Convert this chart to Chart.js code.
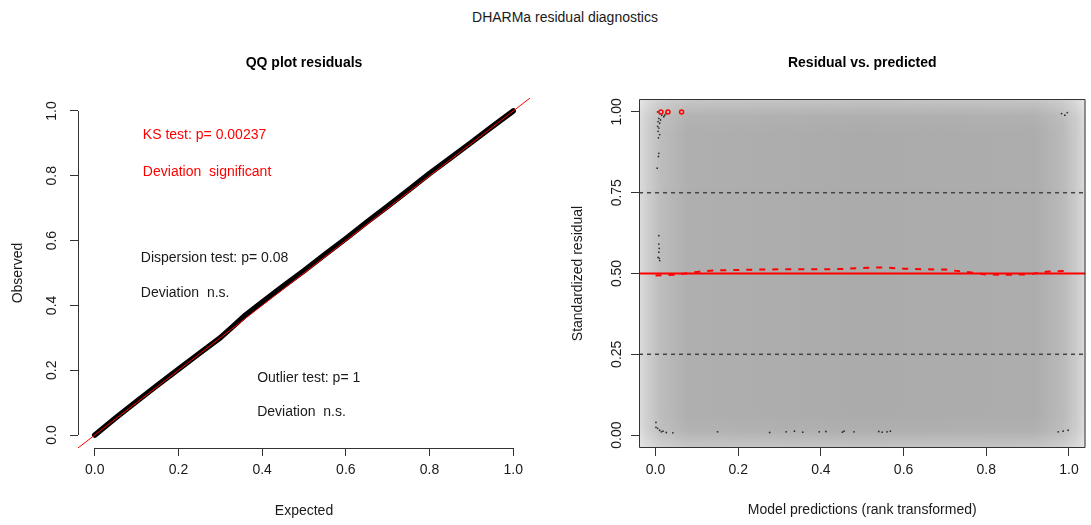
<!DOCTYPE html>
<html>
<head>
<title>DHARMa residual diagnostics</title>
<script src="https://cdn.jsdelivr.net/npm/chart.js"></script>
<style>
    body { margin: 0; background: #fff; font-family: "Liberation Sans", Arial, sans-serif; }
    #wrap { position: relative; width: 1091px; height: 525px; }
    #main { position: absolute; left: 365px; top: 9px; width: 400px; text-align: center; font-size: 14px; color: #1a1a1a; }
    #qq { position: absolute; left: 0; top: 0; }
    #res { position: absolute; left: 545px; top: 0; }
</style>
</head>
<body>
<div id="wrap">
    <div id="main">DHARMa residual diagnostics</div>
    <canvas id="qq" width="545" height="525"></canvas>
    <canvas id="res" width="546" height="525"></canvas>
</div>

<script>
// QQ plot: expected vs observed uniform quantiles
const qqExpected = [0, 0.05, 0.1, 0.15, 0.2, 0.25, 0.3, 0.33, 0.36, 0.4, 0.45, 0.5, 0.55, 0.6, 0.65, 0.7, 0.75, 0.8, 0.85, 0.9, 0.95, 1];
const qqObserved = [0, 0.053, 0.104, 0.154, 0.203, 0.252, 0.3, 0.335, 0.37, 0.41, 0.459, 0.507, 0.557, 0.606, 0.657, 0.706, 0.756, 0.807, 0.855, 0.903, 0.952, 1];
const unitTicks = [0, 0.2, 0.4, 0.6, 0.8, 1];
const residTicks = [0, 0.25, 0.5, 0.75, 1];

const testText = ['KS test: p= 0.00237', 'Deviation  significant',
                  'Dispersion test: p= 0.08', 'Deviation  n.s.',
                  'Outlier test: p= 1', 'Deviation  n.s.'];

// residual vs predicted
const predX = [0.005, 0.01, 0.015, 0.02, 0.008, 0.012, 0.006, 0.01, 0.005, 0.008, 0.006, 0.01, 0.007, 0.008, 0.007, 0.004, 0.022, 0.025,
               0.008, 0.008, 0.009, 0.008, 0.006, 0.009, 0.01,
               0.001, 0.001, 0.005, 0.01, 0.014, 0.018, 0.026, 0.042,
               0.15, 0.276, 0.316, 0.336, 0.356, 0.396, 0.412, 0.452, 0.456, 0.48, 0.54, 0.548, 0.56, 0.568,
               0.974, 0.986, 0.998, 0.982, 0.99, 0.996];
const predY = [1.0, 0.995, 0.99, 0.985, 0.98, 0.975, 0.97, 0.965, 0.955, 0.95, 0.94, 0.93, 0.92, 0.872, 0.862, 0.826, 0.99, 0.995,
               0.617, 0.591, 0.578, 0.566, 0.55, 0.547, 0.54,
               0.039, 0.024, 0.021, 0.015, 0.01, 0.012, 0.008, 0.007,
               0.01, 0.008, 0.01, 0.012, 0.009, 0.01, 0.011, 0.009, 0.012, 0.01, 0.011, 0.009, 0.01, 0.012,
               0.01, 0.012, 0.015, 0.995, 0.99, 0.998];
const outlierX = [0.013, 0.03, 0.063];
const outlierY = [1, 1, 1];
const quantX = [0, 0.05, 0.1, 0.15, 0.2, 0.25, 0.3, 0.35, 0.4, 0.45, 0.5, 0.55, 0.6, 0.65, 0.7, 0.75, 0.8, 0.85, 0.9, 0.95, 1];
const quantMedian = [0.494, 0.496, 0.505, 0.51, 0.511, 0.512, 0.513, 0.513, 0.513, 0.514, 0.517, 0.519, 0.515, 0.513, 0.512, 0.505, 0.497, 0.496, 0.497, 0.506, 0.508];
const refLines = [0.25, 0.5, 0.75];

const ink = '#1a1a1a';
const FONT = '"Liberation Sans", Arial, sans-serif';
Chart.defaults.font.family = FONT;
Chart.defaults.color = ink;

const pts = (xs, ys) => xs.map((x, i) => ({ x: x, y: ys[i] }));
const hline = v => [{ x: -0.04, y: v }, { x: 1.04, y: v }];

// R style axes: y tick labels turned, axis lines from first to last tick, notes
const rAxes = {
    id: 'rAxes',
    beforeDatasetsDraw(chart, args, opts) {
        if (!opts.shade) return;
        const { ctx, chartArea: a } = chart;
        ctx.save();
        let g = ctx.createLinearGradient(a.left, 0, a.right, 0);
        g.addColorStop(0, '#dcdcdc');
        g.addColorStop(0.02, '#cdcdcd');
        g.addColorStop(0.05, '#bcbcbc');
        g.addColorStop(0.11, '#afafaf');
        g.addColorStop(0.5, '#ababab');
        g.addColorStop(0.89, '#adadad');
        g.addColorStop(0.95, '#bababa');
        g.addColorStop(0.98, '#cbcbcb');
        g.addColorStop(1, '#dcdcdc');
        ctx.fillStyle = g;
        ctx.fillRect(a.left, a.top, a.width, a.height);
        g = ctx.createLinearGradient(0, a.top, 0, a.bottom);
        g.addColorStop(0, 'rgba(255,255,255,0.3)');
        g.addColorStop(0.05, 'rgba(255,255,255,0.05)');
        g.addColorStop(0.1, 'rgba(255,255,255,0)');
        g.addColorStop(0.9, 'rgba(255,255,255,0)');
        g.addColorStop(0.95, 'rgba(255,255,255,0.05)');
        g.addColorStop(1, 'rgba(255,255,255,0.3)');
        ctx.fillStyle = g;
        ctx.fillRect(a.left, a.top, a.width, a.height);
        ctx.restore();
    },
    afterDraw(chart, args, opts) {
        const { ctx, chartArea: a, scales: { x, y } } = chart;
        ctx.save();
        ctx.strokeStyle = '#333';
        ctx.lineWidth = 1;
        ctx.beginPath();
        if (opts.box) {
            ctx.rect(a.left + 0.5, a.top + 0.5, a.width - 1, a.height - 1);
        } else {
            ctx.moveTo(x.getPixelForValue(0), a.bottom + 0.5);
            ctx.lineTo(x.getPixelForValue(1), a.bottom + 0.5);
            ctx.moveTo(a.left + 0.5, y.getPixelForValue(0));
            ctx.lineTo(a.left + 0.5, y.getPixelForValue(1));
        }
        ctx.stroke();

        ctx.fillStyle = ink;
        ctx.font = '14px ' + FONT;
        ctx.textAlign = 'center';
        ctx.textBaseline = 'middle';
        y.ticks.forEach(t => {
            ctx.save();
            ctx.translate(opts.labelX, y.getPixelForValue(t.value));
            ctx.rotate(-Math.PI / 2);
            ctx.fillText(t.value.toFixed(opts.digits), 0, 0);
            ctx.restore();
        });

        ctx.textAlign = 'left';
        (opts.notes || []).forEach(n => {
            ctx.fillStyle = n.color;
            ctx.fillText(n.text, x.getPixelForValue(n.x), y.getPixelForValue(n.y));
        });
        ctx.restore();
    }
};

function scaleX(ticks, digits, title, titlePad) {
    return {
        type: 'linear', min: -0.04, max: 1.04,
        afterBuildTicks: s => { s.ticks = ticks.map(v => ({ value: v })); },
        afterFit: s => { s.height = 77; },
        grid: { drawOnChartArea: false, tickLength: 8, tickColor: '#333' },
        border: { display: false },
        ticks: { padding: 6, font: { size: 14 }, maxRotation: 0, autoSkip: false, callback: v => v.toFixed(digits) },
        title: { display: true, text: title, font: { size: 14 }, padding: { top: 0, bottom: titlePad } }
    };
}
function scaleY(ticks, width, title, titlePad) {
    return {
        type: 'linear', min: -0.04, max: 1.04,
        afterBuildTicks: s => { s.ticks = ticks.map(v => ({ value: v })); },
        afterFit: s => { s.width = width; },
        grid: { drawOnChartArea: false, tickLength: 8, tickColor: '#333' },
        border: { display: false },
        ticks: { display: false },
        title: { display: true, text: title, font: { size: 14 }, padding: { top: titlePad, bottom: 0 } }
    };
}

new Chart(document.getElementById('qq'), {
    type: 'scatter',
    data: {
        datasets: [
            { data: [{ x: -0.04, y: -0.04 }, { x: 1.04, y: 1.04 }], showLine: true,
              borderColor: '#ff0000', borderWidth: 1, pointRadius: 0 },
            { data: pts(qqExpected, qqObserved), showLine: true, borderColor: '#000', borderWidth: 5.5,
              borderCapStyle: 'round', borderJoinStyle: 'round', pointRadius: 0, tension: 0 }
        ]
    },
    options: {
        responsive: false, animation: false,
        layout: { padding: { left: 0, right: 15, top: 0, bottom: 0 } },
        scales: { x: scaleX(unitTicks, 1, 'Expected', 5.6), y: scaleY(unitTicks, 78, 'Observed', 9.6) },
        plugins: {
            legend: { display: false }, tooltip: { enabled: false },
            title: { display: true, fullSize: false, text: 'QQ plot residuals', color: '#000',
                     font: { size: 14, weight: 'bold' }, padding: { top: 54.6, bottom: 26.6 } },
            rAxes: {
                labelX: 52, digits: 1,
                notes: [
                    { text: testText[0], x: 0.115, y: 0.925, color: '#ff0000' },
                    { text: testText[1], x: 0.115, y: 0.812, color: '#ff0000' },
                    { text: testText[2], x: 0.11, y: 0.547, color: ink },
                    { text: testText[3], x: 0.11, y: 0.439, color: ink },
                    { text: testText[4], x: 0.388, y: 0.176, color: ink },
                    { text: testText[5], x: 0.388, y: 0.071, color: ink }
                ]
            }
        }
    },
    plugins: [rAxes]
});

new Chart(document.getElementById('res'), {
    type: 'scatter',
    data: {
        datasets: [
            { data: pts(outlierX, outlierY), pointRadius: 2, pointBorderWidth: 1.5,
              pointBorderColor: '#ff0000', pointBackgroundColor: 'rgba(0,0,0,0)' },
            { data: pts(predX, predY), pointRadius: 0.9, pointBorderWidth: 0, pointBackgroundColor: 'rgba(0,0,0,0.75)' },
            { data: pts(quantX, quantMedian), showLine: true, borderColor: '#ff0000', borderWidth: 2,
              borderDash: [6, 7], pointRadius: 0, tension: 0 },
            { data: hline(refLines[1]), showLine: true, borderColor: '#ff0000', borderWidth: 2, pointRadius: 0 },
            { data: hline(refLines[0]), showLine: true, borderColor: '#444', borderWidth: 1.5, borderDash: [4, 4], pointRadius: 0 },
            { data: hline(refLines[2]), showLine: true, borderColor: '#444', borderWidth: 1.5, borderDash: [4, 4], pointRadius: 0 }
        ]
    },
    options: {
        responsive: false, animation: false,
        layout: { padding: { left: 0, right: 2, top: 0, bottom: 0 } },
        scales: {
            x: scaleX(unitTicks, 1, 'Model predictions (rank transformed)', 6.6),
            y: scaleY(residTicks, 94, 'Standardized residual', 24.6)
        },
        plugins: {
            legend: { display: false }, tooltip: { enabled: false },
            title: { display: true, fullSize: false, text: 'Residual vs. predicted', color: '#000',
                     font: { size: 14, weight: 'bold' }, padding: { top: 54.6, bottom: 27.6 } },
            rAxes: { labelX: 72, digits: 2, box: true, shade: true }
        }
    },
    plugins: [rAxes]
});
</script>
</body>
</html>
